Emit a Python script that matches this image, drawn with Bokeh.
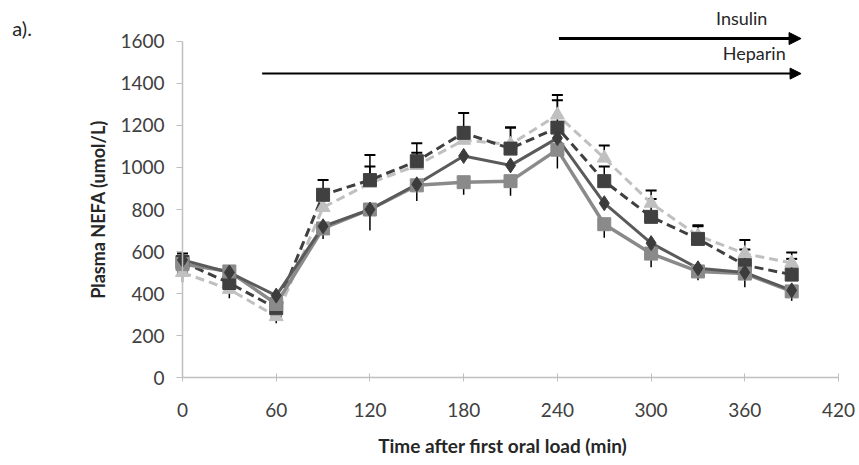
from bokeh.plotting import figure
from bokeh.models import ColumnDataSource, Whisker, TeeHead, Arrow, NormalHead, Label, Range1d
from bokeh.embed import file_html
from bokeh.resources import INLINE

# ---- data ----
time_min = [0, 30, 60, 90, 120, 150, 180, 210, 240, 270, 300, 330, 360, 390]
series_a = [560, 500, 390, 720, 800, 920, 1055, 1010, 1140, 830, 640, 520, 500, 415]   # dark solid, diamonds
series_b = [540, 505, 350, 710, 800, 915, 930, 935, 1085, 730, 590, 505, 495, 410]     # grey solid, squares
series_c = [550, 450, 330, 870, 940, 1030, 1165, 1090, 1190, 935, 765, 660, 535, 490]  # dark dashed, squares
series_d = [500, 420, 290, 810, 925, 1010, 1130, 1110, 1250, 1045, 830, 675, 590, 545] # light dashed, triangles
err_c_up = [40, 45, 40, 70, 120, 85, 95, 100, 130, 70, 85, 60, 75, 75]
err_d_up = [40, 40, 40, 40, 80, 60, 60, 80, 95, 60, 60, 50, 65, 50]
err_b_down = [45, 50, 45, 50, 100, 75, 60, 70, 90, 65, 65, 42, 65, 45]
err_d_down = [47, 43, 32, 0, 0, 0, 0, 0, 0, 0, 0, 0, 0, 0]
x_ticks = [0, 60, 120, 180, 240, 300, 360, 420]
y_ticks = [0, 200, 400, 600, 800, 1000, 1200, 1400, 1600]
insulin_span = (241, 396)
heparin_span = (51, 396)

FONT = "Lato"

p = figure(width=859, height=465, output_backend="svg", toolbar_location=None,
           x_range=Range1d(-116.5, 433.4), y_range=Range1d(-419.0, 1795.2),
           min_border_left=0, min_border_right=0, min_border_top=0, min_border_bottom=0)
p.outline_line_color = None
p.xgrid.visible = False
p.ygrid.visible = False
p.background_fill_color = "white"

for ax in (p.xaxis[0], p.yaxis[0]):
    ax.axis_line_color = "#bfbfbf"
    ax.axis_line_width = 1.5
    ax.major_tick_line_color = "#bfbfbf"
    ax.minor_tick_line_color = None
    ax.major_label_text_font = FONT
    ax.major_label_text_font_size = "19px"
    ax.major_label_text_color = "#404040"
    ax.axis_label_text_font = FONT
    ax.axis_label_text_font_style = "bold"
    ax.axis_label_text_font_size = "18px"
    ax.axis_label_text_color = "#262626"

p.xaxis.ticker = x_ticks
p.yaxis.ticker = y_ticks
p.xaxis.bounds = (0, 420)
p.yaxis.bounds = (0, 1600)
p.yaxis.fixed_location = 0
p.xaxis.fixed_location = 0
p.xaxis.major_tick_in = 4
p.xaxis.major_tick_out = 4
p.yaxis.major_tick_in = 0
p.yaxis.major_tick_out = 6
p.xaxis.major_label_standoff = 21
p.yaxis.major_label_standoff = 12
p.yaxis.axis_label = "Plasma NEFA (umol/L)"
p.yaxis.axis_label_standoff = 8

src = ColumnDataSource(dict(t=time_min, a=series_a, b=series_b, c=series_c, d=series_d,
                            c_hi=[v + e for v, e in zip(series_c, err_c_up)],
                            d_hi=[v + e for v, e in zip(series_d, err_d_up)],
                            b_lo=[v - e for v, e in zip(series_b, err_b_down)]))
dlo_idx = [i for i, e in enumerate(err_d_down) if e > 0]
src_dlo = ColumnDataSource(dict(t=[time_min[i] for i in dlo_idx],
                                d=[series_d[i] for i in dlo_idx],
                                d_lo=[series_d[i] - err_d_down[i] for i in dlo_idx]))

# lines
p.line("t", "d", source=src, line_color="#c0c0c0", line_width=3, line_dash="9 5")
p.line("t", "c", source=src, line_color="#404040", line_width=3, line_dash="9 5")
p.line("t", "b", source=src, line_color="#8a8a8a", line_width=3.5)
p.line("t", "a", source=src, line_color="#5a5a5a", line_width=3)

# error bars
def whisk(source, base, upper, lower, up=True):
    head = TeeHead(size=11, line_color="black", line_width=2)
    w = Whisker(source=source, base=base, upper=upper if up else lower,
                lower=lower if up else upper,
                dimension="height", line_color="black", line_width=1.5,
                upper_head=head if up else None, lower_head=None if up else head)
    p.add_layout(w)

whisk(src, "t", "d_hi", "d", up=True)
whisk(src, "t", "c_hi", "c", up=True)
whisk(src, "t", "b", "b_lo", up=False)
whisk(src_dlo, "t", "d", "d_lo", up=False)

# markers
p.scatter("t", "d", source=src, marker="triangle", size=14, fill_color="#c0c0c0", line_color="#c0c0c0")
p.scatter("t", "c", source=src, marker="square", size=13, fill_color="#404040", line_color="#404040")
p.scatter("t", "b", source=src, marker="square", size=13, fill_color="#8a8a8a", line_color="#8a8a8a")
p.scatter("t", "a", source=src, marker="diamond", size=15, fill_color="#3c3c3c", line_color="#3c3c3c")

# treatment arrows
p.add_layout(Arrow(x_start=insulin_span[0], y_start=1614, x_end=insulin_span[1], y_end=1614,
                   line_width=3, line_color="black",
                   end=NormalHead(size=12, fill_color="black", line_color="black")))
p.add_layout(Arrow(x_start=heparin_span[0], y_start=1447, x_end=heparin_span[1], y_end=1447,
                   line_width=2, line_color="black",
                   end=NormalHead(size=11, fill_color="black", line_color="black")))
p.add_layout(Label(x=358, y=1714, text="Insulin", text_align="center", text_baseline="middle",
                   text_font=FONT, text_font_size="18px", text_color="#262626"))
p.add_layout(Label(x=366, y=1547, text="Heparin", text_align="center", text_baseline="middle",
                   text_font=FONT, text_font_size="18px", text_color="#262626"))
p.add_layout(Label(x=-109, y=1662, text="a).", text_align="left", text_baseline="middle",
                   text_font=FONT, text_font_size="20px", text_color="#262626"))
p.add_layout(Label(x=205, y=-324, text="Time after first oral load (min)",
                   text_align="center", text_baseline="middle", text_font=FONT,
                   text_font_style="bold", text_font_size="19px", text_color="#262626"))

open("out.html", "w").write(file_html(p, INLINE))
